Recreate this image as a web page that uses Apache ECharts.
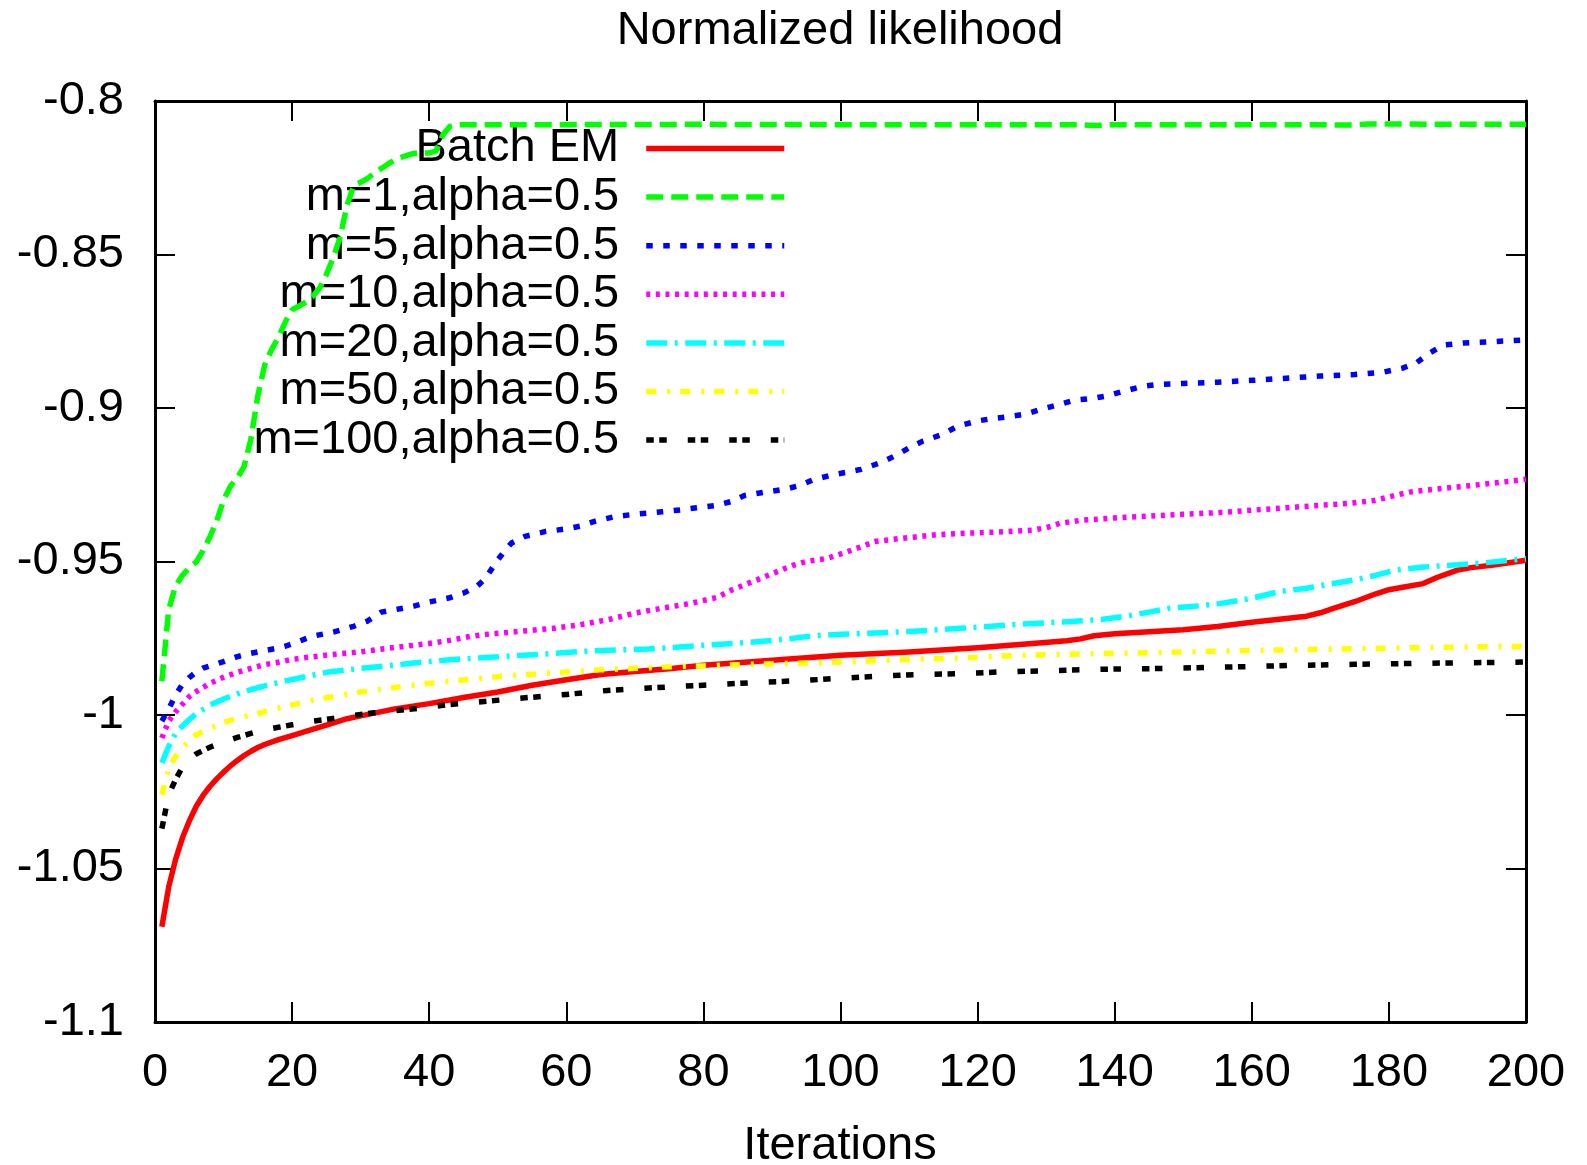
<!DOCTYPE html>
<html>
<head>
<meta charset="utf-8">
<script src="https://cdn.jsdelivr.net/npm/echarts@6/dist/echarts.min.js"></script>
<style>
html,body{margin:0;padding:0;background:#fff;}
#chart{width:1587px;height:1165px;}
</style>
</head>
<body>
<div id="chart"></div>
<script>
const titleText = 'Normalized likelihood';
const xAxisName = 'Iterations';
const seriesNames = ['Batch EM','m=1,alpha=0.5','m=5,alpha=0.5','m=10,alpha=0.5','m=20,alpha=0.5','m=50,alpha=0.5','m=100,alpha=0.5'];

const batchX = [1,2,3,4,5,6,7,8,9,10,11,12,13,14,15,16,18,20,22,25,28,30,35,40,45,50,55,60,65,70,75,80,90,100,110,120,128,133,135,137,140,145,150,155,160,165,168,170,172,175,178,180,182,185,187,190,192,195,200];
const batchY = [-1.069,-1.056,-1.047,-1.040,-1.0345,-1.0298,-1.0262,-1.0233,-1.0208,-1.0186,-1.0166,-1.0148,-1.0132,-1.0118,-1.0106,-1.0096,-1.0080,-1.0067,-1.0053,-1.0033,-1.0012,-1.0003,-0.998,-0.9963,-0.9943,-0.9925,-0.9903,-0.9885,-0.9868,-0.9858,-0.9849,-0.9838,-0.9822,-0.9805,-0.9795,-0.9781,-0.9767,-0.9758,-0.9752,-0.9742,-0.9735,-0.9729,-0.9722,-0.9712,-0.9698,-0.9686,-0.9678,-0.9667,-0.9652,-0.9631,-0.9606,-0.9592,-0.9584,-0.9572,-0.9552,-0.9528,-0.952,-0.9512,-0.9496];

const m1X = [1,2,3,4,5,6,7,8,9,10,11,12,13,14,15,16,17,18,19,20,21,22,23,24,25,26,27,28,29,30,31,32,33,34,35,36,37,38,40,41,42,43,44,60,80,100,120,135,137,140,160,175,177,200];
const m1Y = [-0.989,-0.9656,-0.958,-0.9545,-0.952,-0.9502,-0.9465,-0.942,-0.9368,-0.930,-0.9255,-0.9228,-0.919,-0.910,-0.896,-0.886,-0.881,-0.877,-0.872,-0.868,-0.8668,-0.8655,-0.8637,-0.861,-0.8565,-0.851,-0.8445,-0.834,-0.8275,-0.8265,-0.8252,-0.8235,-0.822,-0.8205,-0.8192,-0.8183,-0.8175,-0.817,-0.8169,-0.8163,-0.811,-0.8083,-0.8077,-0.8077,-0.8076,-0.8077,-0.8077,-0.8077,-0.8080,-0.8077,-0.8077,-0.8078,-0.8075,-0.8076];

const m5X = [1,2,3,4,5,6,7,8,10,12,14,16,18,19,21,23,26,29,31,33,36,38,40,43,45,47,48,49,50,51,52,54,57,60,62,64,67,70,74,77,79,82,84,86,89,92,94,96,99,101,103,106,108,110,112,115,117,120,122,124,127,129,132,134,137,139,141,144,146,150,155,160,165,170,175,179,182,184,186,188,191,195,200];
const m5Y = [-1.002,-0.998,-0.9935,-0.990,-0.9878,-0.986,-0.9847,-0.984,-0.9826,-0.981,-0.9799,-0.979,-0.9782,-0.9776,-0.976,-0.9743,-0.973,-0.9711,-0.9694,-0.9665,-0.9653,-0.9644,-0.9632,-0.9618,-0.9603,-0.958,-0.956,-0.9528,-0.9495,-0.9465,-0.944,-0.9418,-0.9402,-0.9394,-0.9385,-0.937,-0.9354,-0.9346,-0.9338,-0.9331,-0.9325,-0.9317,-0.9305,-0.9285,-0.9274,-0.9264,-0.9253,-0.9234,-0.9217,-0.9209,-0.920,-0.9177,-0.9155,-0.913,-0.9108,-0.9085,-0.906,-0.9042,-0.9035,-0.903,-0.902,-0.9006,-0.8988,-0.8975,-0.8968,-0.896,-0.8947,-0.893,-0.8924,-0.892,-0.8916,-0.891,-0.8903,-0.8896,-0.8891,-0.8884,-0.887,-0.8853,-0.882,-0.8795,-0.8788,-0.8784,-0.8778];

const m10X = [1,2,3,4,5,6,8,10,12,14,16,18,20,22,25,30,35,40,43,46,48,53,58,62,66,70,74,78,82,84,87,90,93,95,98,101,103,105,108,111,114,118,123,128,130,132,135,140,145,150,155,160,165,170,174,178,181,183,186,191,196,200];
const m10Y = [-1.0075,-1.002,-0.999,-0.9965,-0.994,-0.9924,-0.9897,-0.9877,-0.9861,-0.9848,-0.9836,-0.9828,-0.9819,-0.9813,-0.9805,-0.9794,-0.978,-0.9767,-0.9757,-0.9744,-0.9738,-0.9728,-0.9718,-0.9706,-0.969,-0.9668,-0.9652,-0.9637,-0.9617,-0.9594,-0.9567,-0.954,-0.9513,-0.950,-0.949,-0.9468,-0.9452,-0.9435,-0.9427,-0.942,-0.9413,-0.9408,-0.9404,-0.9398,-0.939,-0.9376,-0.9366,-0.9358,-0.9352,-0.9346,-0.9341,-0.9333,-0.9325,-0.9317,-0.9311,-0.9301,-0.9284,-0.9274,-0.9266,-0.9255,-0.9243,-0.9232];

const m20X = [1,2,3,4,5,6,8,10,12,14,16,19,22,25,28,31,35,38,43,48,53,58,63,68,72,77,82,87,92,96,100,106,110,118,123,128,133,138,142,145,148,152,155,160,164,168,171,175,178,181,185,189,194,200];
const m20Y = [-1.0156,-1.0102,-1.006,-1.0036,-1.0015,-0.9996,-0.9968,-0.9948,-0.9931,-0.9917,-0.9905,-0.9889,-0.9875,-0.9861,-0.9853,-0.9846,-0.9837,-0.983,-0.982,-0.9813,-0.9806,-0.980,-0.9792,-0.9788,-0.9785,-0.9778,-0.977,-0.9763,-0.9753,-0.9742,-0.9737,-0.9732,-0.9728,-0.9717,-0.9709,-0.9702,-0.9696,-0.9689,-0.9677,-0.9665,-0.9652,-0.9645,-0.9638,-0.962,-0.9598,-0.9587,-0.9575,-0.956,-0.9545,-0.9528,-0.9518,-0.9512,-0.9504,-0.9491];

const m50X = [1,2,3,4,5,6,8,10,12,15,18,20,23,26,30,35,40,45,50,55,60,65,70,75,80,87,95,101,110,118,123,130,138,145,152,160,167,175,184,192,200];
const m50Y = [-1.026,-1.0175,-1.0135,-1.0107,-1.0085,-1.0064,-1.0043,-1.0024,-1.0011,-0.9995,-0.9978,-0.9967,-0.9952,-0.994,-0.9925,-0.991,-0.9897,-0.9886,-0.9875,-0.9867,-0.986,-0.9853,-0.9848,-0.9843,-0.984,-0.9835,-0.9831,-0.9827,-0.9819,-0.9814,-0.9808,-0.9804,-0.980,-0.9797,-0.9794,-0.979,-0.9787,-0.9784,-0.9781,-0.9778,-0.9776];

const m100X = [1,2,3,4,5,6,8,10,12,14,16,18,20,23,26,29,32,36,40,43,48,54,60,66,72,80,87,95,101,109,118,123,130,138,145,152,160,167,175,184,190,198,200];
const m100Y = [-1.037,-1.026,-1.021,-1.017,-1.0145,-1.0127,-1.0105,-1.0088,-1.0073,-1.006,-1.0048,-1.004,-1.0032,-1.002,-1.0011,-1.0001,-0.9993,-0.9984,-0.9974,-0.9966,-0.9956,-0.9944,-0.9933,-0.992,-0.9912,-0.9903,-0.9895,-0.9887,-0.9879,-0.987,-0.9865,-0.986,-0.9856,-0.9851,-0.9849,-0.9846,-0.9842,-0.9838,-0.9835,-0.9832,-0.983,-0.9828,-0.9827];

const xTicks = {min: 0, max: 200, interval: 20};
const yTicks = {min: -1.1, max: -0.8, interval: 0.05};

const FONT = 'Liberation Sans, Arial, Helvetica, sans-serif';
const zip = (xs, ys) => xs.map((x, i) => [x, ys[i]]);

const styles = [
  {color: '#ff0000', type: 'solid'},
  {color: '#00ff00', type: [17, 8]},
  {color: '#0000ff', type: [6.5, 10.5]},
  {color: '#ff00ff', type: [4, 5.6]},
  {color: '#00ffff', type: [21, 7.5, 3, 7.5]},
  {color: '#ffff00', type: [10, 11, 3, 10]},
  {color: '#000000', type: [7.5, 5.5, 7.5, 21]}
];
const dataSets = [zip(batchX, batchY), zip(m1X, m1Y), zip(m5X, m5Y), zip(m10X, m10Y), zip(m20X, m20Y), zip(m50X, m50Y), zip(m100X, m100Y)];

const LW = 5.5;
const axisLineStyle = {color: '#000', width: 3};
const tickStyle = {show: true, inside: true, length: 20, lineStyle: {color: '#000', width: 2}};

const chart = echarts.init(document.getElementById('chart'), null, {renderer: 'canvas'});
chart.setOption({
  animation: false,
  backgroundColor: '#fff',
  title: [
    {text: titleText, left: 840, top: 8, padding: 0, textAlign: 'center',
     textStyle: {fontSize: 47, fontWeight: 'normal', color: '#000', fontFamily: FONT}},
    {text: xAxisName, left: 840, top: 1123, padding: 0, textAlign: 'center',
     textStyle: {fontSize: 47, fontWeight: 'normal', color: '#000', fontFamily: FONT}}
  ],
  grid: {left: 155, right: 61, top: 101, bottom: 143, containLabel: false},
  legend: {
    orient: 'vertical', align: 'right', right: 800, top: 124.5, padding: 0,
    itemWidth: 138, itemHeight: 14, itemGap: 0.6, selectedMode: false, z: 1,
    itemStyle: {opacity: 0},
    lineStyle: {width: LW},
    textStyle: {fontSize: 47, lineHeight: 48, color: '#000', fontFamily: FONT, padding: [0, 22, 0, 0]},
    data: seriesNames
  },
  xAxis: [
    {type: 'value', position: 'bottom', min: xTicks.min, max: xTicks.max, interval: xTicks.interval,
     axisLine: {show: true, onZero: false, lineStyle: axisLineStyle}, axisTick: tickStyle,
     axisLabel: {fontSize: 47, color: '#000', fontFamily: FONT, margin: 28}, splitLine: {show: false}},
    {type: 'value', position: 'top', min: xTicks.min, max: xTicks.max, interval: xTicks.interval,
     axisLine: {show: true, onZero: false, lineStyle: axisLineStyle}, axisTick: tickStyle,
     axisLabel: {show: false}, splitLine: {show: false}}
  ],
  yAxis: [
    {type: 'value', position: 'left', min: yTicks.min, max: yTicks.max, interval: yTicks.interval,
     axisLine: {show: true, onZero: false, lineStyle: axisLineStyle}, axisTick: tickStyle,
     axisLabel: {fontSize: 47, color: '#000', fontFamily: FONT, margin: 31}, splitLine: {show: false}},
    {type: 'value', position: 'right', min: yTicks.min, max: yTicks.max, interval: yTicks.interval,
     axisLine: {show: true, onZero: false, lineStyle: axisLineStyle}, axisTick: tickStyle,
     axisLabel: {show: false}, splitLine: {show: false}}
  ],
  series: seriesNames.map((name, i) => ({
    name: name, type: 'line', data: dataSets[i], xAxisIndex: 0, yAxisIndex: 0,
    symbol: 'none', showSymbol: false, smooth: false, z: 2,
    itemStyle: {color: styles[i].color},
    lineStyle: {color: styles[i].color, width: LW, type: styles[i].type, cap: 'butt', join: 'round'},
    emphasis: {disabled: true}
  }))
});
</script>
</body>
</html>
